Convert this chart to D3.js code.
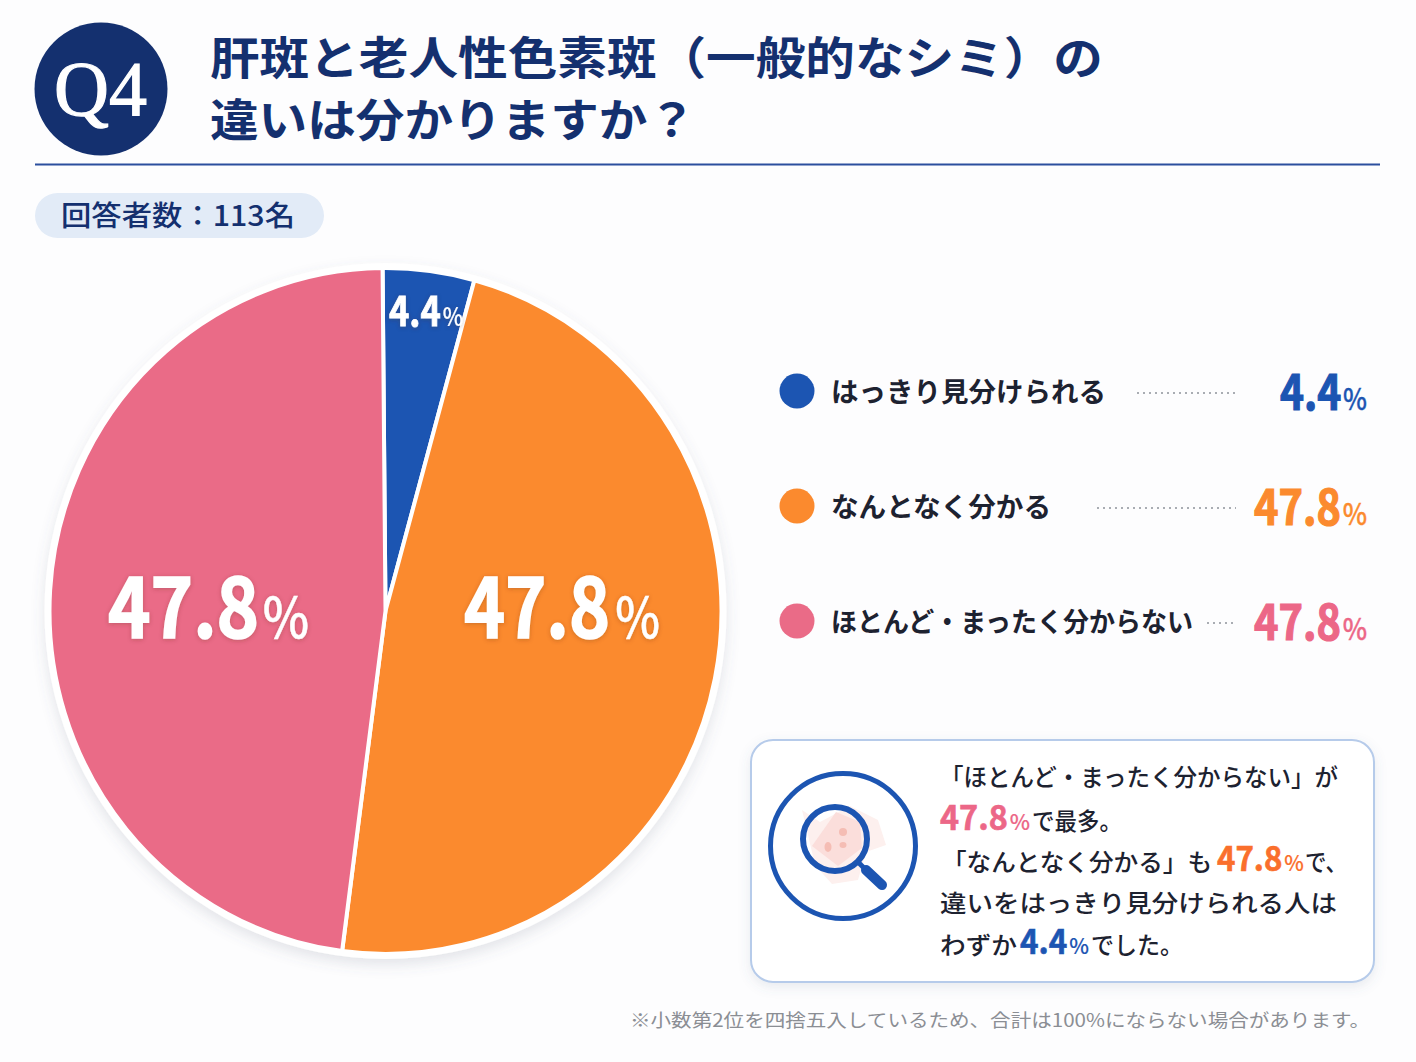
<!DOCTYPE html>
<html lang="ja">
<head>
<meta charset="utf-8">
<title>Q4 肝斑と老人性色素斑の違い</title>
<script src="https://cdn.jsdelivr.net/npm/d3@7/dist/d3.min.js"></script>
<style>
  html, body { margin: 0; padding: 0; background: #fdfdfe; }
  svg { display: block; }
  text { font-family: "Noto Sans CJK JP", "Noto Sans", sans-serif; }
</style>
</head>
<body>
<svg id="chart" width="1416" height="1062" xmlns="http://www.w3.org/2000/svg"></svg>
<script>
// Survey answers
const categories = ["はっきり見分けられる", "なんとなく分かる", "ほとんど・まったく分からない"];
const shares = [4.4, 47.8, 47.8];
const sliceColors = ["#1c55b2", "#fb8a2e", "#ea6b87"];
const valueColors = ["#1c55b2", "#fb8a2e", "#ec6787"];

const titleLines = ["肝斑と老人性色素斑（一般的なシミ）の", "違いは分かりますか？"];
const respondents = "回答者数：113名";
const footnote = "※小数第2位を四捨五入しているため、合計は100%にならない場合があります。";

const NAVY = "#14306f", INK = "#1d2230";
const fmt = d3.format(".1f");
const svg = d3.select("#chart");
const defs = svg.append("defs");

function softShadow(id, dy, blur, opacity, color) {
  defs.append("filter").attr("id", id)
    .attr("x", "-20%").attr("y", "-20%").attr("width", "140%").attr("height", "140%")
    .append("feDropShadow")
    .attr("dx", 0).attr("dy", dy).attr("stdDeviation", blur)
    .attr("flood-color", color).attr("flood-opacity", opacity);
}
softShadow("pieShadow", 6, 7, 0.16, "#5a6478");
softShadow("boxShadow", 4, 6, 0.13, "#5a6a88");
softShadow("labelShadow", 1, 2, 0.28, "#5a2a20");

// Plain text run fitted to a set width
function label(parent, str, x, y, size, fill, weight, width) {
  const t = parent.append("text")
    .attr("x", x).attr("y", y)
    .attr("font-size", size).attr("font-weight", weight || 700)
    .attr("fill", fill).text(str);
  if (width) t.attr("textLength", width).attr("lengthAdjust", "spacingAndGlyphs");
  return t;
}

// Condensed "number + %" figure, squeezed horizontally to a set total width
function figure(parent, value, x, y, size, pctSize, gap, width, fill, thicken) {
  const t = parent.append("text").attr("fill", fill)
    .attr("stroke", fill).attr("stroke-width", thicken).attr("paint-order", "stroke");
  t.append("tspan").attr("font-size", size).attr("font-weight", 700).text(fmt(value));
  t.append("tspan").attr("dx", gap).attr("font-size", pctSize).attr("font-weight", 500)
    .attr("stroke-width", thicken * 0.3).text("%");
  const natural = t.node().getComputedTextLength() + gap;
  t.attr("transform", `translate(${x},${y}) scale(${width / natural},1)`);
  return t;
}

// Header
svg.append("circle").attr("cx", 101).attr("cy", 89).attr("r", 66.5).attr("fill", NAVY);
label(svg, "Q4", 54, 115, 78, "#ffffff", 400, 93)
  .style("font-family", '"Liberation Serif", serif')
  .attr("stroke", "#ffffff").attr("stroke-width", 1.2);
label(svg, titleLines[0], 210, 75, 45, NAVY, 700, 893);
label(svg, titleLines[1], 210, 137, 45, NAVY, 700, 486);
svg.append("line").attr("x1", 35).attr("x2", 1380).attr("y1", 164.5).attr("y2", 164.5)
  .attr("stroke", "#2b4f9e").attr("stroke-width", 2);

svg.append("rect").attr("x", 35).attr("y", 193).attr("width", 289).attr("height", 45)
  .attr("rx", 22.5).attr("fill", "#e2ebf7");
label(svg, respondents, 61, 226, 28, NAVY, 500, 234);

// Pie
const cx = 385.5, cy = 611, rx = 336, ry = 343;
const startDeg = -0.5;
const pie = d3.pie().sort(null)
  .startAngle(startDeg * Math.PI / 180)
  .endAngle((startDeg + 360) * Math.PI / 180);
const arc = d3.arc().innerRadius(0).outerRadius(rx);
const pieG = svg.append("g");
pieG.append("ellipse").attr("cx", cx).attr("cy", cy).attr("rx", rx + 5).attr("ry", ry + 5)
  .attr("fill", "#fff").attr("filter", "url(#pieShadow)");
pieG.append("g").attr("transform", `translate(${cx},${cy}) scale(1,${ry / rx})`)
  .selectAll("path").data(pie(shares)).join("path")
  .attr("d", arc)
  .attr("fill", (d, i) => sliceColors[i])
  .attr("stroke", "#fff").attr("stroke-width", 4).attr("stroke-linejoin", "round");

// Slice labels, as [x, baseline, size, percent size, gap, total width, stroke]
const sliceLabelBoxes = [
  [389, 326, 40, 25, 2, 74, 0.8],
  [464, 638, 82, 56, 6, 196, 1.6],
  [108, 638, 82, 56, 4, 201, 1.6]
];
const sliceLabels = svg.append("g").attr("filter", "url(#labelShadow)");
shares.forEach((v, i) => {
  const b = sliceLabelBoxes[i];
  figure(sliceLabels, v, b[0], b[1], b[2], b[3], b[4], b[5], "#fff", b[6]);
});

// Legend rows
const legendY = d3.scalePoint().domain(categories).range([391, 621]);
const legendTextWidth = [275, 220, 362];
const legendValueX = [1280, 1254, 1254];
const leaderStart = [1137, 1097, 1207];
categories.forEach((c, i) => {
  const y = legendY(c);
  svg.append("circle").attr("cx", 797).attr("cy", y).attr("r", 17.5).attr("fill", sliceColors[i]);
  label(svg, c, 831, y + 11, 27, INK, 700, legendTextWidth[i]);
  svg.append("line").attr("x1", leaderStart[i]).attr("x2", 1236)
    .attr("y1", y + 2).attr("y2", y + 2)
    .attr("stroke", "#a9adb3").attr("stroke-width", 2).attr("stroke-dasharray", "2 4");
  figure(svg, shares[i], legendValueX[i], y + 19, 48, 30, 2, 1367 - legendValueX[i], valueColors[i], 1.2);
});

// Callout box
svg.append("rect").attr("x", 751).attr("y", 740).attr("width", 623).attr("height", 242)
  .attr("rx", 22).attr("fill", "#fff").attr("stroke", "#b6cbea").attr("stroke-width", 2)
  .attr("filter", "url(#boxShadow)");

// Magnifying glass over a patch of skin
const icon = svg.append("g");
icon.append("circle").attr("cx", 843).attr("cy", 846).attr("r", 72.5)
  .attr("fill", "none").attr("stroke", "#1c55b2").attr("stroke-width", 5);
icon.append("path")
  .attr("d", "M802 810 L820 822 L850 806 L878 820 L886 845 L866 852 L858 880 L832 884 L815 865 L808 835 Z")
  .attr("fill", "#fdf0ee");
icon.append("path")
  .attr("d", "M812 846 L836 812 L860 822 L862 848 L838 866 Z")
  .attr("fill", "#fbdedb");
[[843, 832, 4, 4], [843, 845, 3.5, 3], [828, 847, 3.5, 5]].forEach(s => {
  icon.append("ellipse").attr("cx", s[0]).attr("cy", s[1]).attr("rx", s[2]).attr("ry", s[3])
    .attr("fill", "#f5bdb4");
});
icon.append("circle").attr("cx", 835).attr("cy", 839).attr("r", 32)
  .attr("fill", "none").attr("stroke", "#1c55b2").attr("stroke-width", 6);
icon.append("line").attr("x1", 858).attr("y1", 862).attr("x2", 866).attr("y2", 870)
  .attr("stroke", "#1c55b2").attr("stroke-width", 5);
icon.append("line").attr("x1", 866).attr("y1", 870).attr("x2", 882).attr("y2", 885)
  .attr("stroke", "#1c55b2").attr("stroke-width", 10).attr("stroke-linecap", "round");

// Callout copy: plain runs are [text, x, width]; figures are {v, x, w, c}
const CALLOUT_PINK = "#ec6787", CALLOUT_ORANGE = "#fa6f2c", CALLOUT_BLUE = "#1c55b2";
const calloutLines = [
  { y: 786, runs: [["「ほとんど・まったく分からない」が", 940, 398]] },
  { y: 830, runs: [{ v: shares[2], x: 940, w: 90, c: CALLOUT_PINK }, ["で最多。", 1032, 90]] },
  { y: 871, runs: [["「なんとなく分かる」も", 942, 270], { v: shares[1], x: 1217, w: 87, c: CALLOUT_ORANGE }, ["で、", 1305, 42]] },
  { y: 912, runs: [["違いをはっきり見分けられる人は", 940, 397]] },
  { y: 954, runs: [["わずか", 940, 77], { v: shares[0], x: 1020, w: 69, c: CALLOUT_BLUE }, ["でした。", 1091, 92]] }
];
calloutLines.forEach(line => {
  line.runs.forEach(r => {
    if (Array.isArray(r)) label(svg, r[0], r[1], line.y, 24, INK, 500, r[2]);
    else figure(svg, r.v, r.x, line.y, 33, 22, 2, r.w, r.c, 0.6);
  });
});

label(svg, footnote, 630, 1027, 18, "#8b8e94", 400, 740);
</script>
</body>
</html>
